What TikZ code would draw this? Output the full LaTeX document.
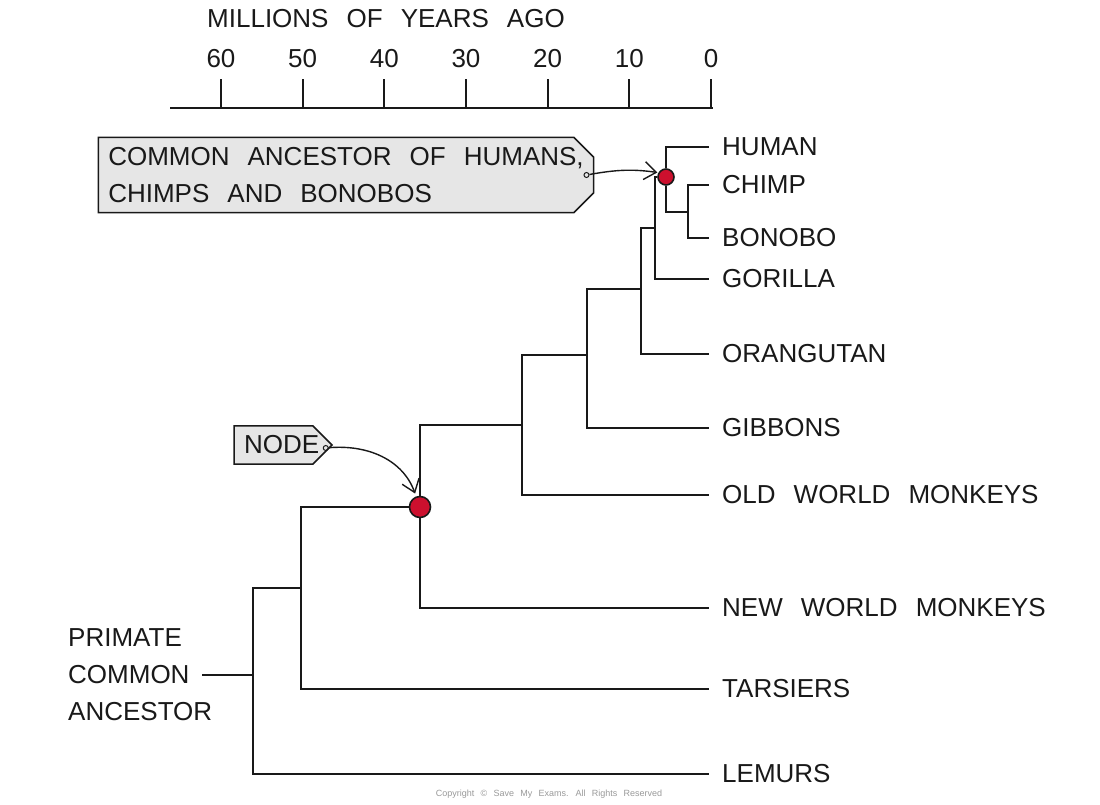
\documentclass[tikz,border=0pt]{standalone}
\usepackage{fontspec}
\setmainfont[WordSpace=2.5]{Liberation Sans}
\usetikzlibrary{arrows.meta,shapes.misc}
\definecolor{seink}{RGB}{25,25,25}
\definecolor{sered}{RGB}{204,16,46}
\definecolor{segrey}{RGB}{230,230,230}

\begin{document}
\begin{tikzpicture}[x=1pt,y=-1pt,>={Straight Barb[length=12pt,width=18pt]},
    font=\fontsize{26}{37}\selectfont,every node/.style={text=seink},
    branch/.style={draw=seink,line width=2.2pt},
    taxon/.style={anchor=west,inner xsep=13pt,inner ysep=0pt},
    cladedot/.style={circle,draw=seink,line width=1.6pt,fill=sered,inner sep=0pt},
    tagbox/.style={chamfered rectangle,chamfered rectangle corners={north east,south east},
      chamfered rectangle xsep=10pt,chamfered rectangle ysep=10pt,
      draw=seink,line width=1.5pt,fill=segrey,align=left,inner xsep=0pt,inner ysep=0pt},
    taghole/.style={circle,draw=seink,line width=1pt,minimum size=5pt,inner sep=0pt},
    callout/.style={->,draw=seink,line width=1.4pt}]
  \useasboundingbox (0,0) rectangle (1100,805);

  % time axis
  \node[anchor=west,inner sep=0pt] (axistitle) at (207,19) {MILLIONS OF YEARS AGO};
  \draw[branch] (170,108) -- (713,108);
  \foreach \v [count=\i from 0] in {0,10,...,60} {
    \draw[branch] (711-81.67*\i,108) -- (711-81.67*\i,79);
    \node at (711-81.67*\i,59) {\v};
  }

  % taxa
  \node[taxon] (human) at (709,147) {HUMAN};
  \node[taxon] (chimp) at (709,185) {CHIMP};
  \node[taxon] (bonobo) at (709,238) {BONOBO};
  \node[taxon] (gorilla) at (709,279) {GORILLA};
  \node[taxon] (orangutan) at (709,354) {ORANGUTAN};
  \node[taxon] (gibbons) at (709,428) {GIBBONS};
  \node[taxon] (oldworld) at (709,495) {OLD WORLD MONKEYS};
  \node[taxon] (newworld) at (709,608) {NEW WORLD MONKEYS};
  \node[taxon] (tarsiers) at (709,689) {TARSIERS};
  \node[taxon] (lemurs) at (709,774) {LEMURS};
  \node[anchor=west,align=left,inner sep=0pt] (ancestor) at (68,675) {PRIMATE\\COMMON\\ANCESTOR};

  % branch points
  \coordinate (root) at (253,675);
  \coordinate (haplo) at (301,588);
  \coordinate (catar) at (522,425);
  \coordinate (homin) at (587,355);
  \coordinate (great) at (641,289);
  \coordinate (african) at (655,228);
  \coordinate (pan) at (688,212);
  \node[cladedot,minimum size=16pt] (cabdot) at (666,177) {};
  \node[cladedot,minimum size=21pt] (nodept) at (420,507) {};

  \draw[branch,line width=1.8pt,shorten <=-10pt] (ancestor) -- (root);
  \foreach \a/\b in {root/haplo,root/lemurs,haplo/nodept,haplo/tarsiers,
      nodept/catar,nodept/newworld,catar/homin,catar/oldworld,homin/great,
      homin/gibbons,great/african,great/orangutan,african/cabdot,african/gorilla,
      cabdot/human,cabdot/pan,pan/chimp,pan/bonobo}
    \draw[branch] (\a) |- (\b);

  % callouts
  \node[tagbox,minimum width=494pt,minimum height=72pt] (cabnote) at (346,175)
    {COMMON ANCESTOR OF HUMANS,\\CHIMPS AND BONOBOS};
  \node[tagbox,text width=78pt,minimum width=98pt,minimum height=36pt] (nodetag) at (283,445) {NODE};
  \node[taghole] (cabhole) at ([xshift=-8pt]cabnote.east) {};
  \node[taghole] (nodehole) at ([xshift=-7pt,yshift=-3pt]nodetag.east) {};
  \draw[callout,shorten >=1pt] (cabhole) to[out=10,in=172] (cabdot.150);
  \draw[callout,shorten >=3pt] (nodehole) to[out=5,in=110] (nodept);

  \node[font=\fontsize{9}{11}\selectfont,text=black!40] (copyright) at (549,794)
    {Copyright © Save My Exams. All Rights Reserved};
\end{tikzpicture}
\end{document}
